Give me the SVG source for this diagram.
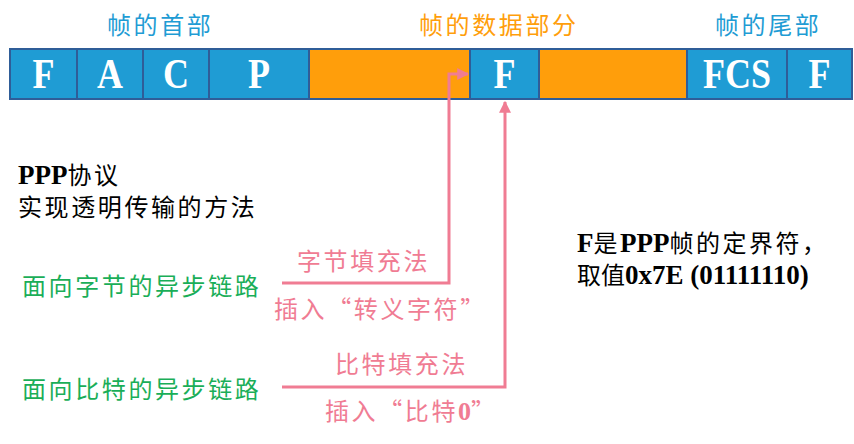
<svg xmlns="http://www.w3.org/2000/svg" width="854" height="444" viewBox="0 0 854 444">
<style>
.cj{font-family:"Noto Sans CJK SC","Noto Sans",sans-serif;font-size:24px;letter-spacing:2.6px}
.lat{font-family:"Liberation Serif","Times New Roman",serif;font-weight:bold;letter-spacing:0}
.n1{letter-spacing:2.5px}
.n0{letter-spacing:0}
.cell-b{fill:#1F9CD4;stroke:#2F5D98;stroke-width:2}
.cell-o{fill:#FF9E0B;stroke:#2F5D98;stroke-width:2}
.ct{font-family:"Liberation Serif","Times New Roman",serif;font-weight:bold;font-size:36px;fill:#fff;text-anchor:middle}
.blue{fill:#1F9CD4}.orange{fill:#FF9E0B}.green{fill:#1AAE58}.pink{fill:#F07C93}.black{fill:#000}
.conn{fill:none;stroke:#F07C93;stroke-width:3}
</style>
<defs>
<marker id="ah" viewBox="0 0 10 10" refX="9" refY="5" markerWidth="4" markerHeight="4" orient="auto" markerUnits="strokeWidth">
<path d="M0,0 L10,5 L0,10 z" fill="#F07C93"/>
</marker>
</defs>
<rect width="854" height="444" fill="#fff"/>
<g id="labels-top">
<text class="cj blue" x="107" y="34">帧的首部</text>
<text class="cj orange" x="419" y="34">帧的数据部分</text>
<text class="cj blue" x="715" y="34">帧的尾部</text>
</g>
<g id="frame">
<g id="cell-F1"><rect class="cell-b" x="10" y="49" width="67" height="50"/><text class="ct" transform="translate(43.5,88) scale(1,1.2)">F</text></g>
<g id="cell-A"><rect class="cell-b" x="77" y="49" width="66" height="50"/><text class="ct" transform="translate(110,88) scale(1,1.2)">A</text></g>
<g id="cell-C"><rect class="cell-b" x="143" y="49" width="66" height="50"/><text class="ct" transform="translate(176,88) scale(1,1.2)">C</text></g>
<g id="cell-P"><rect class="cell-b" x="209" y="49" width="100" height="50"/><text class="ct" transform="translate(259,88) scale(1,1.2)">P</text></g>
<g id="cell-D1"><rect class="cell-o" x="309" y="49" width="161" height="50"/></g>
<g id="cell-F2"><rect class="cell-b" x="470" y="49" width="69" height="50"/><text class="ct" transform="translate(504.5,88) scale(1,1.2)">F</text></g>
<g id="cell-D2"><rect class="cell-o" x="539" y="49" width="148" height="50"/></g>
<g id="cell-FCS"><rect class="cell-b" x="687" y="49" width="100" height="50"/><text class="ct" transform="translate(737,88) scale(1,1.2)">FCS</text></g>
<g id="cell-F3"><rect class="cell-b" x="787" y="49" width="65" height="50"/><text class="ct" transform="translate(819.5,88) scale(1,1.2)">F</text></g>
</g>
<g id="connectors">
<path class="conn" d="M282,283 H449 V74 H468" marker-end="url(#ah)"/>
<path class="conn" d="M282,387 H505 V102" marker-end="url(#ah)"/>
</g>
<g id="title">
<text class="cj black" x="18" y="184"><tspan class="lat" font-size="27">PPP</tspan>协议</text>
<text class="cj black" x="18" y="216">实现透明传输的方法</text>
</g>
<g id="byte-link"><text class="cj green" x="22" y="295">面向字节的异步链路</text></g>
<g id="bit-link"><text class="cj green" x="22" y="398">面向比特的异步链路</text></g>
<g id="byte-labels">
<text class="cj pink" x="297" y="270">字节填充法</text>
<text class="cj pink" x="274" y="318">插入“转义字符”</text>
</g>
<g id="bit-labels">
<text class="cj pink" x="335" y="373">比特填充法</text>
<text class="cj pink" x="325" y="420">插入“比特<tspan class="lat" font-size="26">0</tspan>”</text>
</g>
<g id="note">
<text class="cj n1 black" x="577" y="252"><tspan class="lat" font-size="27">F</tspan>是<tspan class="lat" font-size="27">PPP</tspan>帧的定界符，</text>
<text class="cj n0 black" x="577" y="284">取值<tspan class="lat" font-size="27">0x7E (01111110)</tspan></text>
</g>
</svg>
